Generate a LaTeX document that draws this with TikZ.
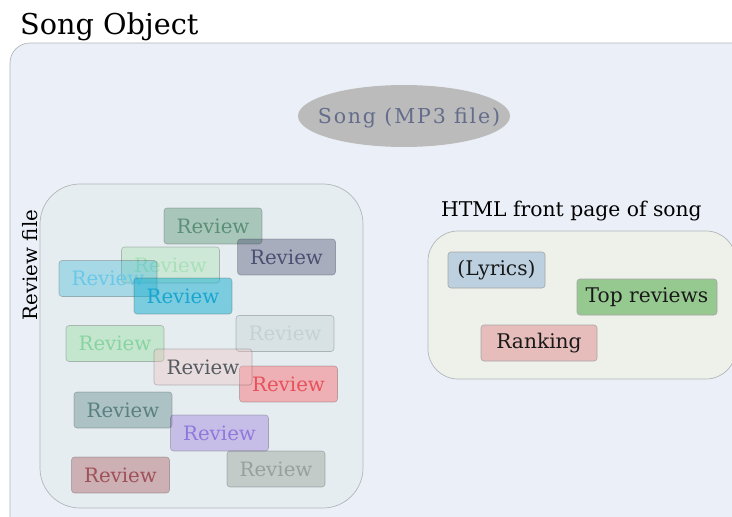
\documentclass[tikz,border=0pt]{standalone}
\usepackage{fontspec}
\setmainfont{DejaVu Serif}
\usetikzlibrary{shapes.geometric}
\definecolor{outerfill}{HTML}{EBF0F8}
\definecolor{revfill}{HTML}{E6EDF0}
\definecolor{htmlfill}{HTML}{EDF1EA}
\definecolor{frame}{HTML}{B2B6BA}
\definecolor{songfill}{RGB}{186,187,186}
\definecolor{songtxt}{RGB}{100,108,140}
\definecolor{lyrfill}{RGB}{188,208,224}
\definecolor{topfill}{RGB}{150,201,144}
\definecolor{rankfill}{RGB}{230,189,187}
\definecolor{fA}{RGB}{56,126,91}    \definecolor{tA}{RGB}{90,144,120}
\definecolor{fB}{RGB}{53,54,97}     \definecolor{tB}{RGB}{74,80,112}
\definecolor{fC}{RGB}{164,223,171}  \definecolor{tC}{RGB}{168,224,184}
\definecolor{fD}{RGB}{47,177,211}   \definecolor{tD}{RGB}{106,200,232}
\definecolor{fE}{RGB}{18,173,208}   \definecolor{tE}{RGB}{26,166,208}
\definecolor{fF}{RGB}{138,217,145}  \definecolor{tF}{RGB}{136,212,160}
\definecolor{fG}{RGB}{190,206,206}  \definecolor{tG}{RGB}{195,210,212}
\definecolor{fH}{RGB}{241,189,191}  \definecolor{tH}{RGB}{85,92,96}
\definecolor{fI}{RGB}{253,63,69}    \definecolor{tI}{RGB}{232,80,90}
\definecolor{fJ}{RGB}{67,114,114}   \definecolor{tJ}{RGB}{90,128,128}
\definecolor{fK}{RGB}{144,103,217}  \definecolor{tK}{RGB}{143,120,220}
\definecolor{fL}{RGB}{156,63,69}    \definecolor{tL}{RGB}{160,80,88}
\definecolor{fM}{RGB}{130,140,126}  \definecolor{tM}{RGB}{152,160,158}
\tikzset{
  revbox/.style n args={3}{draw=black, draw opacity=0.22, line width=0.6pt, rounded corners=3pt,
    fill=#1, fill opacity=#2, text opacity=1, text=#3,
    minimum width=98pt, minimum height=36pt, inner sep=0pt,
    font=\fontsize{19.8}{19.8}\selectfont},
  pagebox/.style={draw=black!35, line width=0.6pt, rounded corners=3pt, fill=#1,
    minimum height=36pt, inner sep=0pt, text=black!90, font=\fontsize{20.2}{20.2}\selectfont},
  container/.style={draw=frame, line width=0.7pt, fill=#1},
  lbl/.style={font=\fontsize{#1}{#1}\selectfont, inner sep=0pt, text=black}
}
\begin{document}
\begin{tikzpicture}[x=1pt,y=-1pt]
\useasboundingbox (0,0) rectangle (732,517);
\clip (0,0) rectangle (732,517);
\fill[white] (0,0) rectangle (732,517);
% title
\node[lbl=28.7, anchor=west] (title) at (20,27) {Song Object};
% outer container
\draw[container=outerfill, rounded corners=20pt] (10,43) rectangle (760,540);
% song ellipse
\fill[songfill] (404,116) ellipse [x radius=106, y radius=31];
\node[inner sep=0pt, text=songtxt, font=\fontsize{20.5}{20.5}\selectfont\addfontfeature{LetterSpace=9}] (song) at (409,118) {Song (MP3 file)};
% review file container
\draw[container=revfill, rounded corners=40pt] (40,184) rectangle (363,508);
\node[lbl=19.8, rotate=90] (revlbl) at (30,265) {Review file};
% HTML container
\node[lbl=20.3, anchor=west] (htmllbl) at (441,211) {HTML front page of song};
\draw[container=htmlfill, rounded corners=30pt] (428,231) rectangle (736,379);
\node[pagebox=lyrfill, minimum width=97pt] (lyrics) at (496.5,270) {(Lyrics)};
\node[pagebox=topfill, minimum width=140pt] (top) at (647,297) {Top reviews};
\node[pagebox=rankfill, minimum width=116pt] (rank) at (539,343) {Ranking};
% reviews
\node[revbox={fA}{0.35}{tA}] (r1) at (213,226) {Review};
\node[revbox={fB}{0.35}{tB}] (r2) at (286.5,257) {Review};
\node[revbox={fC}{0.35}{tC}] (r3) at (170.5,265) {Review};
\node[revbox={fD}{0.35}{tD}] (r4) at (108,278.5) {Review};
\node[revbox={fE}{0.5}{tE}] (r5) at (183,296) {Review};
\node[revbox={fF}{0.35}{tF}] (r6) at (115,343.5) {Review};
\node[revbox={fG}{0.35}{tG}] (r7) at (285,333.5) {Review};
\node[revbox={fI}{0.35}{tI}] (r9) at (288.5,384) {Review};
\node[revbox={fH}{0.35}{tH}] (r8) at (203,367) {Review};
\node[revbox={fJ}{0.35}{tJ}] (r10) at (123,410) {Review};
\node[revbox={fK}{0.35}{tK}] (r11) at (219.5,433) {Review};
\node[revbox={fL}{0.35}{tL}] (r12) at (120.5,475) {Review};
\node[revbox={fM}{0.35}{tM}] (r13) at (276,469) {Review};
\end{tikzpicture}
\end{document}
